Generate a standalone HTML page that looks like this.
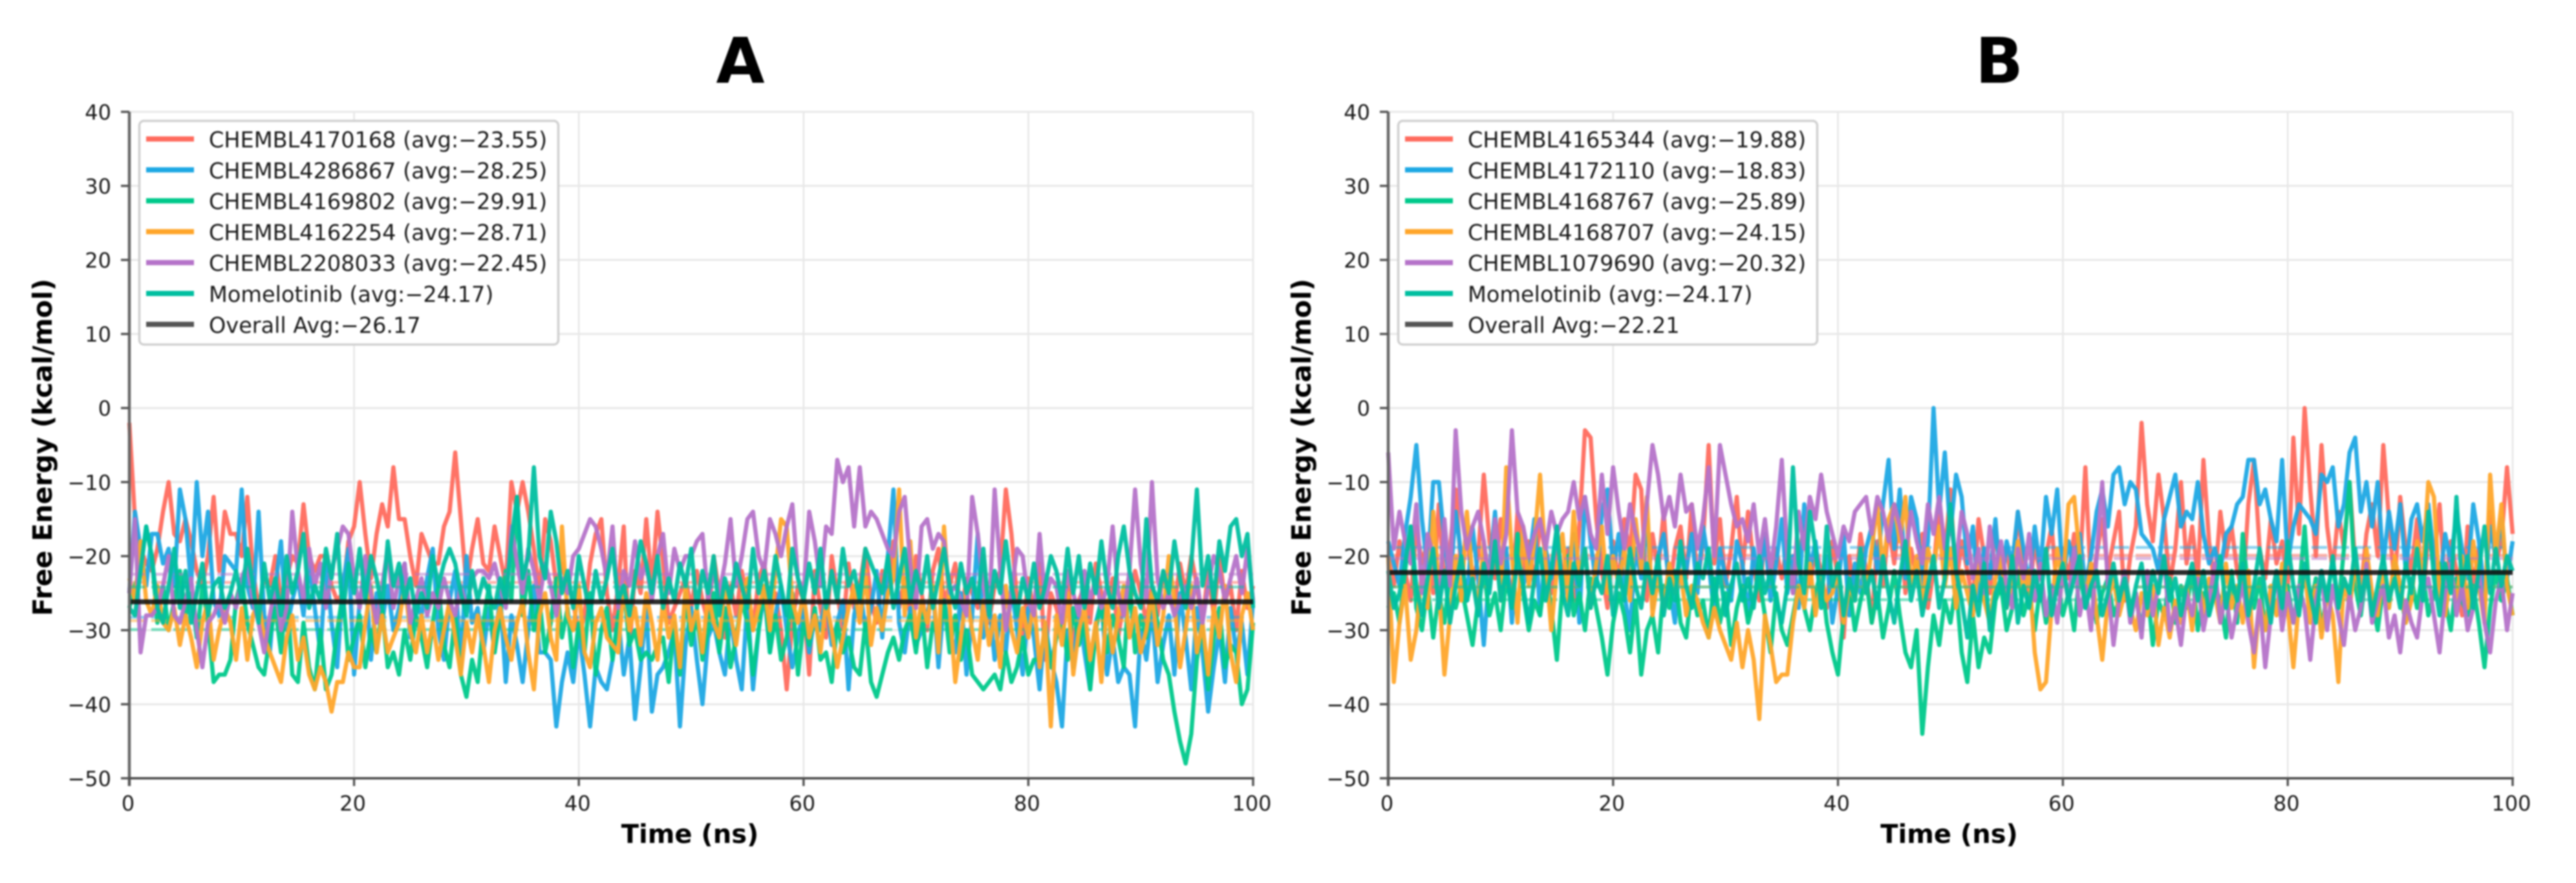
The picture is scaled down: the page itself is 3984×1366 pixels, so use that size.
<!DOCTYPE html>
<html lang="en">
<head>
<meta charset="utf-8">
<title>Free Energy over Time</title>
<style>
html,body{margin:0;padding:0;background:#fff;width:3984px;height:1366px;overflow:hidden}
svg{display:block;filter:blur(1.2px)}
text{font-family:"DejaVu Sans","Liberation Sans",sans-serif;fill:#1a1a1a}
</style>
</head>
<body>
<svg id="figure" xmlns="http://www.w3.org/2000/svg" width="3984" height="1366" viewBox="0 0 3984 1366">
<rect x="0" y="0" width="3984" height="1366" fill="#ffffff"/>
</svg>
<script>
const xTicks = [0, 20, 40, 60, 80, 100];
const yTicks = [40, 30, 20, 10, 0, -10, -20, -30, -40, -50];
const seriesColors = ['#ff6b5e', '#1ea8e4', '#00c98b', '#ffa62b', '#b573c9', '#00bfa0'];

const panelATitle = 'A';
const panelBTitle = 'B';
const panelANames = ['CHEMBL4170168', 'CHEMBL4286867', 'CHEMBL4169802', 'CHEMBL4162254', 'CHEMBL2208033', 'Momelotinib'];
const panelBNames = ['CHEMBL4165344', 'CHEMBL4172110', 'CHEMBL4168767', 'CHEMBL4168707', 'CHEMBL1079690', 'Momelotinib'];
const panelAAverages = [-23.55, -28.25, -29.91, -28.71, -22.45, -24.17];
const panelBAverages = [-19.88, -18.83, -25.89, -24.15, -20.32, -24.17];
const panelAOverall = -26.17;
const panelBOverall = -22.21;

const a1 = [-2,-15,-19,-21,-22,-19,-14,-10,-17,-18,-15,-18,-22,-24,-20,-12,-22,-14,-17,-17,
-20,-12,-22,-27,-23,-24,-20,-26,-23,-20,-21,-13,-20,-22,-20,-20,-24,-26,-25,-18,
-16,-10,-17,-23,-17,-13,-16,-8,-15,-15,-20,-24,-17,-19,-21,-21,-16,-14,-6,-15,
-24,-19,-15,-21,-22,-16,-20,-24,-10,-14,-10,-14,-19,-25,-15,-18,-24,-21,-24,-26,
-31,-28,-21,-17,-15,-25,-30,-24,-16,-33,-22,-25,-15,-24,-14,-21,-29,-27,-25,-23,
-27,-22,-26,-29,-20,-25,-31,-24,-28,-22,-26,-30,-23,-21,-27,-25,-30,-38,-29,-24,
-26,-36,-22,-27,-31,-20,-25,-30,-21,-27,-24,-19,-26,-29,-22,-25,-18,-27,-23,-28,
-20,-25,-30,-22,-19,-26,-24,-21,-28,-23,-25,-27,-20,-29,-24,-22,-11,-17,-26,-31,
-23,-28,-21,-34,-25,-27,-30,-22,-33,-26,-24,-29,-21,-25,-28,-23,-31,-26,-27,-22,
-25,-29,-24,-28,-22,-26,-27,-21,-25,-20,-24,-29,-22,-28,-20,-26,-24,-30,-22,-27,-24];
const a2 = [-25,-14,-19,-24,-17,-17,-21,-19,-24,-11,-15,-24,-10,-20,-14,-26,-28,-20,-21,-22,
-11,-24,-27,-14,-28,-33,-24,-18,-30,-26,-23,-28,-21,-27,-33,-21,-29,-35,-24,-19,
-36,-26,-22,-34,-25,-29,-24,-30,-27,-21,-31,-26,-28,-23,-19,-30,-34,-26,-22,-35,
-20,-29,-27,-33,-27,-33,-25,-37,-28,-32,-37,-30,-24,-33,-33,-34,-43,-37,-33,-37,
-30,-36,-43,-35,-37,-38,-34,-28,-36,-31,-42,-35,-27,-41,-36,-35,-33,-30,-43,-32,
-27,-34,-40,-31,-29,-33,-36,-28,-34,-38,-26,-38,-30,-25,-33,-28,-24,-30,-35,-31,
-27,-33,-28,-30,-25,-32,-29,-26,-38,-28,-24,-30,-27,-22,-31,-20,-11,-29,-33,-27,
-32,-30,-28,-24,-35,-26,-30,-33,-25,-36,-28,-17,-31,-26,-34,-28,-33,-24,-30,-36,
-27,-31,-38,-29,-34,-37,-43,-30,-35,-27,-33,-38,-29,-26,-36,-31,-37,-35,-36,-43,
-30,-34,-27,-37,-32,-28,-36,-25,-31,-38,-27,-33,-41,-35,-30,-37,-27,-33,-29,-36,-26];
const a3 = [-27,-24,-22,-16,-20,-29,-24,-30,-26,-22,-28,-25,-31,-24,-29,-37,-36,-36,-34,-26,
-23,-29,-32,-35,-36,-31,-27,-33,-24,-36,-37,-29,-35,-38,-30,-38,-36,-30,-25,-34,
-31,-28,-35,-30,-33,-27,-35,-33,-36,-30,-34,-28,-31,-35,-29,-24,-32,-35,-28,-36,
-39,-34,-37,-29,-24,-33,-28,-22,-26,-12,-28,-22,-30,-26,-33,-29,-23,-31,-27,-35,
-29,-33,-25,-36,-30,-27,-34,-28,-24,-32,-30,-34,-33,-34,-32,-31,-37,-29,-36,-25,
-32,-28,-34,-30,-25,-33,-27,-35,-31,-26,-29,-36,-30,-24,-33,-28,-34,-31,-25,-36,
-29,-32,-27,-34,-33,-37,-29,-33,-31,-35,-36,-29,-37,-39,-36,-33,-31,-34,-30,-28,
-33,-27,-35,-29,-31,-26,-33,-28,-34,-30,-36,-37,-38,-37,-36,-38,-33,-37,-35,-31,
-36,-34,-34,-30,-35,-31,-28,-34,-27,-32,-29,-38,-30,-26,-33,-28,-31,-35,-23,-33,
-28,-31,-25,-29,-34,-36,-41,-45,-48,-44,-34,-29,-38,-31,-27,-35,-32,-33,-40,-38,-29];
const a4 = [-23,-26,-18,-26,-28,-24,-29,-30,-27,-32,-28,-31,-35,-29,-26,-34,-30,-27,-29,-34,
-27,-34,-28,-26,-31,-33,-35,-37,-31,-28,-34,-31,-36,-38,-35,-37,-41,-37,-37,-33,
-35,-35,-29,-24,-33,-28,-33,-31,-29,-24,-30,-33,-28,-33,-29,-34,-30,-26,-31,-36,
-29,-33,-28,-32,-37,-30,-27,-31,-34,-29,-26,-33,-38,-28,-25,-31,-34,-16,-28,-30,
-24,-33,-35,-29,-27,-31,-32,-33,-24,-30,-27,-32,-25,-29,-34,-26,-31,-28,-35,-24,
-30,-27,-33,-25,-29,-31,-24,-28,-32,-26,-23,-30,-27,-24,-30,-22,-15,-16,-26,-29,
-25,-31,-28,-33,-26,-30,-35,-31,-27,-24,-29,-22,-32,-27,-30,-25,-23,-11,-28,-18,
-31,-26,-29,-24,-33,-16,-27,-37,-31,-25,-30,-34,-26,-32,-28,-35,-24,-30,-33,-27,
-31,-26,-35,-29,-43,-28,-32,-25,-36,-30,-27,-34,-29,-37,-26,-33,-28,-24,-31,-27,
-33,-30,-25,-32,-28,-20,-26,-35,-30,-24,-33,-29,-36,-27,-31,-24,-33,-37,-28,-25,-30];
const a5 = [-25,-15,-33,-28,-28,-27,-24,-20,-28,-29,-26,-23,-30,-35,-29,-28,-26,-29,-25,-27,
-23,-21,-26,-29,-33,-28,-24,-30,-27,-14,-22,-26,-19,-24,-21,-27,-22,-19,-16,-17,
-23,-27,-20,-25,-29,-24,-19,-27,-23,-21,-29,-26,-23,-28,-25,-27,-23,-26,-28,-24,
-27,-23,-22,-22,-23,-21,-24,-27,-16,-21,-25,-19,-22,-26,-21,-24,-28,-23,-25,-20,
-19,-17,-15,-16,-19,-23,-16,-27,-22,-24,-18,-23,-21,-26,-20,-17,-25,-19,-22,-20,
-20,-18,-17,-26,-22,-25,-21,-15,-24,-20,-15,-14,-20,-22,-15,-17,-20,-16,-13,-23,
-25,-14,-18,-24,-16,-17,-7,-10,-8,-16,-8,-16,-14,-15,-17,-19,-20,-14,-12,-21,
-27,-16,-15,-19,-17,-18,-25,-24,-26,-28,-12,-17,-24,-28,-11,-22,-30,-25,-19,-20,
-26,-28,-17,-26,-23,-24,-29,-22,-25,-28,-22,-26,-23,-27,-24,-16,-25,-28,-22,-11,
-21,-26,-10,-23,-27,-25,-28,-26,-24,-27,-23,-29,-24,-20,-22,-26,-23,-20,-25,-19,-26];
const a6 = [-27,-28,-22,-16,-20,-27,-29,-24,-19,-27,-22,-29,-25,-21,-28,-24,-23,-27,-25,-22,
-26,-19,-24,-29,-21,-26,-23,-28,-20,-25,-22,-17,-27,-24,-26,-19,-23,-17,-28,-21,
-25,-19,-26,-20,-23,-27,-18,-24,-21,-26,-23,-28,-25,-27,-20,-24,-21,-19,-21,-25,
-28,-22,-26,-23,-25,-27,-23,-26,-18,-12,-23,-20,-8,-20,-23,-14,-18,-25,-22,-27,
-20,-24,-28,-22,-26,-23,-19,-26,-24,-28,-23,-18,-21,-25,-20,-27,-23,-26,-21,-24,
-19,-27,-22,-25,-20,-28,-23,-26,-21,-24,-27,-19,-25,-22,-26,-20,-24,-28,-19,-23,
-26,-21,-25,-19,-27,-22,-26,-19,-24,-22,-26,-19,-21,-23,-25,-20,-27,-23,-19,-26,
-22,-25,-20,-27,-23,-19,-24,-27,-21,-25,-23,-26,-19,-28,-22,-25,-18,-24,-28,-23,
-26,-21,-27,-24,-20,-22,-26,-19,-25,-20,-27,-21,-25,-18,-24,-27,-20,-16,-22,-25,
-27,-15,-24,-26,-22,-25,-18,-23,-27,-21,-11,-24,-20,-26,-18,-22,-16,-15,-20,-17,-27];

const b1 = [-20,-24,-18,-22,-26,-16,-21,-18,-25,-13,-24,-19,-11,-22,-17,-24,-20,-9,-18,-23,
-15,-21,-26,-14,-22,-18,-24,-15,-20,-25,-17,-23,-19,-26,-16,-3,-4,-15,-22,-27,
-18,-24,-15,-20,-9,-11,-26,-17,-22,-14,-25,-19,-16,-23,-13,-24,-18,-5,-21,-15,
-24,-19,-12,-22,-14,-21,-26,-17,-24,-19,-23,-18,-25,-20,-16,-24,-19,-22,-27,-18,
-23,-31,-20,-26,-17,-22,-29,-18,-24,-16,-21,-14,-25,-19,-23,-17,-27,-22,-13,-20,
-11,-24,-18,-22,-26,-15,-20,-25,-16,-22,-19,-24,-14,-21,-26,-18,-23,-20,-16,-25,
-19,-23,-17,-22,-8,-24,-20,-15,-22,-18,-14,-26,-20,-16,-2,-13,-18,-9,-15,-24,
-19,-10,-21,-16,-23,-7,-18,-24,-14,-20,-16,-22,-25,-13,-7,-19,-23,-15,-21,-18,
-24,-4,-17,0,-11,-20,-5,-16,-22,-14,-19,-10,-21,-25,-17,-13,-20,-5,-15,-24,
-12,-19,-22,-15,-26,-17,-21,-13,-25,-18,-22,-28,-16,-24,-19,-27,-14,-21,-18,-8,-17];
const b2 = [-18,-21,-24,-17,-12,-5,-15,-22,-10,-10,-18,-24,-14,-20,-26,-16,-23,-32,-22,-14,
-25,-19,-29,-17,-24,-21,-15,-28,-19,-23,-16,-26,-21,-17,-29,-12,-18,-24,-14,-11,
-22,-17,-25,-30,-19,-23,-15,-27,-20,-17,-24,-29,-19,-22,-17,-25,-16,-21,-28,-19,
-23,-26,-18,-21,-28,-19,-24,-17,-26,-21,-15,-25,-20,-27,-13,-22,-18,-25,-20,-29,
-24,-17,-28,-21,-25,-19,-16,-22,-13,-7,-19,-11,-23,-12,-15,-24,-18,0,-14,-6,
-17,-9,-12,-21,-16,-26,-19,-23,-15,-25,-18,-21,-14,-19,-24,-16,-22,-12,-17,-11,
-23,-18,-22,-17,-24,-20,-14,-11,-16,-9,-8,-13,-10,-11,-17,-18,-19,-22,-15,-12,
-9,-16,-14,-15,-10,-17,-21,-19,-22,-17,-16,-13,-12,-7,-7,-13,-11,-15,-18,-7,
-21,-16,-13,-14,-15,-17,-9,-10,-8,-16,-13,-6,-4,-14,-10,-16,-10,-21,-14,-19,
-13,-22,-15,-13,-18,-13,-20,-24,-17,-21,-14,-19,-23,-13,-18,-25,-16,-20,-15,-23,-18];
const b3 = [-27,-25,-29,-22,-16,-27,-30,-24,-31,-25,-29,-22,-27,-24,-28,-32,-26,-22,-28,-25,
-30,-23,-27,-17,-25,-30,-26,-28,-22,-27,-34,-24,-20,-28,-25,-30,-23,-27,-31,-36,
-29,-25,-28,-33,-26,-36,-30,-28,-33,-24,-27,-22,-29,-31,-24,-28,-26,-31,-23,-29,
-25,-32,-27,-24,-29,-26,-23,-28,-33,-25,-30,-32,-28,-24,-27,-30,-25,-22,-29,-33,
-36,-28,-24,-30,-26,-23,-29,-25,-31,-27,-22,-28,-33,-35,-30,-44,-35,-28,-32,-26,
-29,-24,-33,-37,-28,-35,-31,-33,-26,-24,-30,-27,-22,-28,-25,-30,-24,-29,-26,-23,
-28,-25,-30,-22,-27,-24,-29,-25,-23,-28,-26,-22,-27,-25,-30,-24,-32,-26,-28,-23,
-29,-24,-27,-22,-30,-25,-28,-24,-26,-31,-22,-29,-17,-25,-27,-23,-30,-26,-22,-28,
-24,-29,-25,-16,-27,-23,-30,-25,-21,-27,-19,-10,-24,-28,-22,-26,-30,-24,-27,-21,
-25,-29,-23,-27,-22,-28,-25,-21,-26,-30,-23,-26,-28,-24,-29,-35,-27,-22,-26,-23,-28];
const b4 = [-20,-37,-29,-24,-34,-30,-22,-27,-14,-24,-36,-28,-20,-26,-14,-23,-27,-18,-24,-16,
-26,-8,-20,-29,-16,-24,-18,-9,-21,-30,-22,-17,-26,-14,-23,-19,-27,-21,-16,-25,
-20,-24,-19,-26,-15,-22,-12,-28,-23,-27,-21,-25,-22,-28,-24,-26,-29,-31,-27,-30,
-32,-34,-29,-35,-30,-34,-42,-28,-32,-37,-36,-36,-29,-24,-27,-21,-28,-23,-26,-25,
-22,-29,-24,-26,-20,-25,-19,-13,-22,-15,-13,-18,-12,-24,-20,-27,-19,-22,-16,-24,
-19,-27,-22,-25,-28,-21,-26,-29,-23,-20,-27,-24,-18,-25,-22,-33,-38,-37,-27,-19,
-24,-13,-12,-20,-26,-21,-28,-34,-26,-23,-28,-25,-27,-30,-25,-28,-24,-32,-27,-31,
-26,-29,-24,-30,-22,-28,-23,-25,-29,-21,-27,-24,-29,-22,-35,-26,-30,-24,-28,-21,
-27,-35,-26,-22,-29,-24,-31,-25,-28,-37,-23,-27,-21,-26,-19,-25,-28,-22,-27,-20,
-24,-29,-26,-18,-22,-10,-12,-25,-28,-22,-26,-20,-27,-18,-24,-29,-9,-20,-13,-24,-28];
const b5 = [-6,-19,-14,-18,-21,-13,-25,-17,-20,-27,-15,-24,-3,-14,-19,-16,-14,-18,-24,-15,
-21,-17,-3,-14,-16,-20,-17,-15,-19,-14,-17,-15,-14,-10,-15,-12,-17,-19,-9,-17,
-8,-14,-19,-13,-17,-20,-13,-5,-9,-15,-12,-16,-9,-14,-13,-19,-15,-8,-20,-5,
-9,-13,-16,-15,-18,-13,-20,-15,-22,-16,-7,-20,-25,-14,-19,-12,-15,-9,-14,-17,
-20,-16,-18,-14,-13,-12,-17,-12,-14,-18,-13,-16,-20,-14,-18,-21,-13,-17,-12,-19,
-15,-21,-14,-17,-23,-19,-25,-16,-22,-18,-24,-27,-19,-23,-17,-26,-21,-28,-24,-29,
-22,-26,-19,-28,-24,-30,-20,-10,-24,-32,-26,-22,-29,-25,-31,-22,-28,-24,-20,-30,
-27,-32,-25,-28,-23,-30,-26,-21,-29,-25,-31,-27,-24,-29,-33,-26,-35,-28,-22,-30,
-25,-29,-24,-27,-34,-26,-22,-30,-24,-28,-32,-25,-30,-27,-21,-29,-26,-24,-31,-28,
-33,-26,-29,-31,-25,-23,-28,-33,-25,-21,-28,-24,-30,-27,-22,-29,-33,-26,-23,-30,-25];
const b6 = [-22,-27,-25,-21,-16,-24,-28,-23,-19,-27,-22,-29,-24,-20,-26,-23,-28,-21,-25,-18,
-26,-22,-27,-20,-24,-29,-23,-19,-26,-22,-16,-25,-28,-21,-24,-19,-27,-23,-25,-20,
-28,-22,-26,-19,-24,-27,-21,-25,-20,-28,-23,-26,-18,-24,-27,-21,-23,-19,-26,-22,
-28,-24,-21,-26,-23,-27,-20,-25,-22,-26,-29,-24,-8,-21,-25,-14,-19,-27,-16,-24,
-21,-28,-23,-26,-19,-25,-22,-27,-20,-25,-29,-23,-18,-26,-22,-28,-24,-20,-27,-23,
-13,-22,-26,-31,-24,-28,-21,-30,-25,-23,-27,-20,-29,-24,-27,-22,-26,-19,-28,-24,
-21,-26,-23,-20,-27,-24,-22,-28,-25,-21,-26,-23,-28,-24,-21,-27,-22,-25,-20,-26,
-23,-28,-24,-21,-26,-22,-28,-25,-20,-27,-23,-26,-21,-28,-24,-19,-25,-29,-22,-27,
-18,-24,-28,-21,-25,-29,-22,-26,-20,-27,-23,-25,-19,-26,-22,-28,-24,-20,-26,-23,
-27,-21,-25,-19,-26,-14,-23,-28,-21,-25,-12,-24,-20,-27,-22,-16,-25,-19,-24,-20,-22];

const SVG_NS = 'http://www.w3.org/2000/svg';
const figure = document.getElementById('figure');

function make(parent, tag, attrs, text) {
  const el = document.createElementNS(SVG_NS, tag);
  for (const k in attrs) el.setAttribute(k, attrs[k]);
  if (text !== undefined) el.textContent = text;
  parent.appendChild(el);
  return el;
}

function minusText(v) {
  return String(v).replace('-', '\u2212');
}

function drawPanel(opts) {
  const left = opts.left, right = opts.right;
  const top = 173, bottom = 1204;
  const xScale = t => left + (t / 100) * (right - left);
  const yScale = v => bottom - ((v + 50) / 90) * (bottom - top);

  const g = make(figure, 'g', {});
  
  

  xTicks.forEach(t => {
    const grid = make(g, 'line', {x1: xScale(t), x2: xScale(t), y1: top, y2: bottom, stroke: '#e6e6e6', 'stroke-width': 2.5});
    
    
  });
  yTicks.forEach(v => {
    const grid = make(g, 'line', {x1: left, x2: right, y1: yScale(v), y2: yScale(v), stroke: '#e8e8e8', 'stroke-width': 3});
    
    
  });

  opts.series.forEach((values, s) => {
    const step = 100 / (values.length - 1);
    const pts = values.map((v, i) => xScale(i * step).toFixed(1) + ',' + yScale(v).toFixed(1)).join(' ');
    const line = make(g, 'polyline', {points: pts, fill: 'none', stroke: seriesColors[s], 'stroke-width': 6.5, 'stroke-linejoin': 'round', opacity: 0.95});
    
    
    const avg = make(g, 'line', {x1: left, x2: right, y1: yScale(opts.averages[s]), y2: yScale(opts.averages[s]), stroke: seriesColors[s], 'stroke-width': 4.5, 'stroke-dasharray': '24 10', opacity: 0.5});
    
    
  });

  const overall = make(g, 'line', {x1: left, x2: right, y1: yScale(opts.overall), y2: yScale(opts.overall), stroke: '#111111', 'stroke-width': 7.5, opacity: 0.88});
  
  

  const ySpine = make(g, 'line', {x1: left, x2: left, y1: top, y2: bottom + 12, stroke: '#666666', 'stroke-width': 4.5});
  
  
  const xSpine = make(g, 'line', {x1: left, x2: right + 2, y1: bottom, y2: bottom, stroke: '#444444', 'stroke-width': 3.5});
  
  

  xTicks.forEach(t => {
    const tick = make(g, 'line', {x1: xScale(t), x2: xScale(t), y1: bottom, y2: bottom + 12, stroke: '#555555', 'stroke-width': 3.5});
    
    
    const label = make(g, 'text', {x: xScale(t) - 2, y: 1254, 'text-anchor': 'middle', 'font-size': 32}, String(t));
    
    
  });
  yTicks.forEach(v => {
    const tick = make(g, 'line', {x1: left - 13, x2: left, y1: yScale(v), y2: yScale(v), stroke: '#555555', 'stroke-width': 3.5});
    
    
    const label = make(g, 'text', {x: left - 28, y: yScale(v) + 12, 'text-anchor': 'end', 'font-size': 32}, minusText(v));
    
    
  });

  const xTitle = make(g, 'text', {x: (left + right) / 2 - 2, y: 1304, 'text-anchor': 'middle', 'font-size': 40, 'font-weight': 'bold', style: 'fill:#000'}, 'Time (ns)');
  
  
  const yMid = 692, yX = left - 120;
  const yTitle = make(g, 'text', {x: yX, y: yMid, 'text-anchor': 'middle', 'font-size': 41, 'font-weight': 'bold', transform: 'rotate(-90 ' + yX + ' ' + yMid + ')', style: 'fill:#000'}, 'Free Energy (kcal/mol)');
  
  

  const title = make(g, 'text', {x: opts.titleX, y: 128, 'text-anchor': 'middle', 'font-size': 97, 'font-weight': 'bold', style: 'fill:#000'}, opts.title);
  
  

  const legendX = left + 15.5;
  const legend = make(g, 'g', {});
  
  
  const box = make(legend, 'rect', {x: legendX, y: 187, width: 648, height: 346, rx: 7, fill: '#ffffff', stroke: '#d0d0d0', 'stroke-width': 3.5});
  
  
  const entryColors = seriesColors.concat(['#555555']);
  const entryLabels = opts.names.map((n, i) => n + ' (avg:' + minusText(opts.averages[i].toFixed(2)) + ')')
    .concat(['Overall Avg:' + minusText(opts.overall.toFixed(2))]);
  entryLabels.forEach((lab, i) => {
    const ly = 215 + i * 47.8;
    const swatch = make(legend, 'line', {x1: left + 26, x2: left + 100, y1: ly, y2: ly, stroke: entryColors[i], 'stroke-width': 8});
    
    
    const txt = make(legend, 'text', {x: left + 123, y: ly + 13, 'font-size': 33.5}, lab);
    
    
  });
}

drawPanel({id: 'panel-a', title: panelATitle, titleX: 1145, left: 200, right: 1938, names: panelANames, averages: panelAAverages, overall: panelAOverall, series: [a1, a2, a3, a4, a5, a6]});
drawPanel({id: 'panel-b', title: panelBTitle, titleX: 3092, left: 2147, right: 3886, names: panelBNames, averages: panelBAverages, overall: panelBOverall, series: [b1, b2, b3, b4, b5, b6]});
</script>
</body>
</html>
